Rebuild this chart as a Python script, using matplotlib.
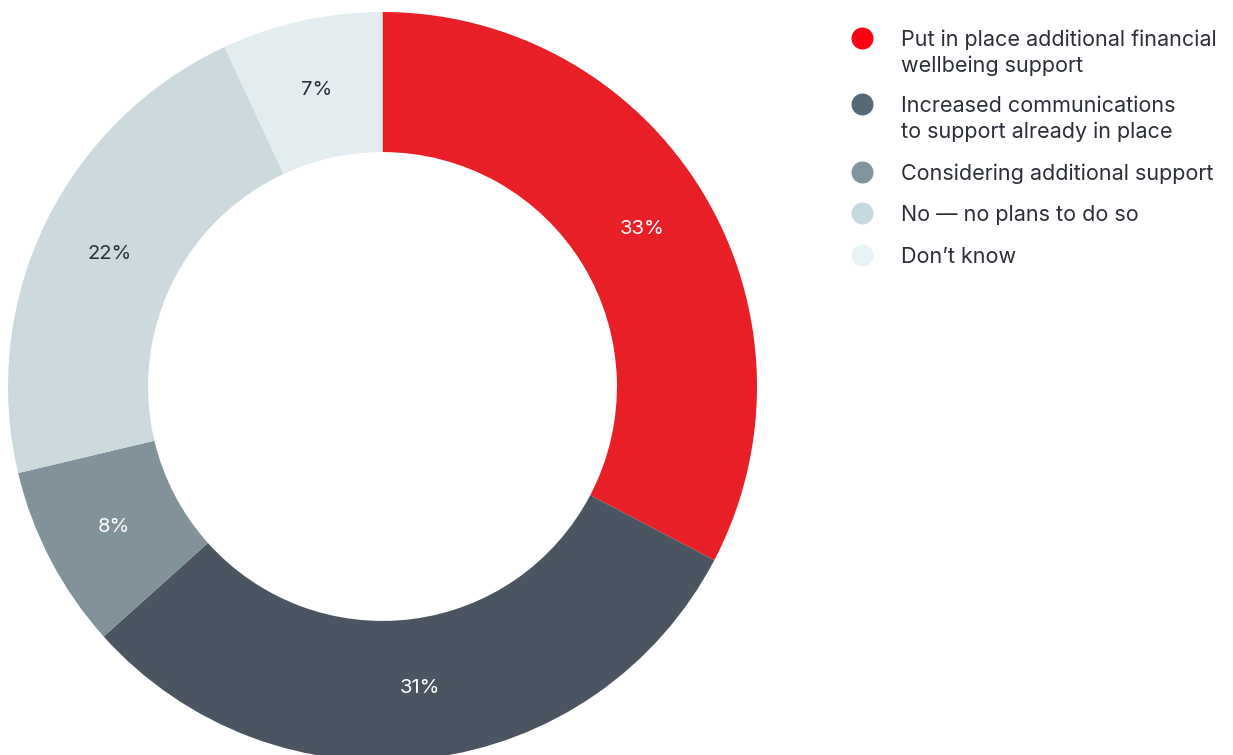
import numpy as np
import matplotlib.pyplot as plt

categories = [
    "Put in place additional financial\nwellbeing support",
    "Increased communications\nto support already in place",
    "Considering additional support",
    "No \u2014 no plans to do so",
    "Don\u2019t know",
]
values = [33, 31, 8, 22, 7]
slice_colors = ["#E91F27", "#4A5561", "#82929A", "#CCDADD", "#E3ECEE"]
dot_colors = ["#FF0015", "#546A77", "#7F949C", "#C5DADF", "#E6F3F4"]
label_colors = ["white", "white", "white", "#2B2F38", "#2B2F38"]

plt.rcParams["font.family"] = ["Inter", "DejaVu Sans"]

W, H = 1233, 755
fig = plt.figure(figsize=(W / 100, H / 100), dpi=100)

# donut: centre (382.5, 386.5) px, outer radius 374.5 px
cx, cy, r = 382.5, 386.5, 374.5
ax = fig.add_axes([(cx - r) / W, (H - cy - r) / H, 2 * r / W, 2 * r / H])
ax.pie(
    values,
    colors=slice_colors,
    startangle=90,
    counterclock=False,
    radius=1,
    wedgeprops=dict(width=0.374, linewidth=0),
)
ax.set_xlim(-1, 1)
ax.set_ylim(-1, 1)
ax.set_aspect("equal")
ax.axis("off")

total = sum(values)
start = 90.0
for v, col in zip(values, label_colors):
    span = v / total * 360
    mid = np.deg2rad(start - span / 2)
    ax.text(0.81 * np.cos(mid), 0.81 * np.sin(mid), f"{v}%",
            ha="center", va="center", fontsize=14.5, color=col)
    start -= span

# legend drawn in pixel coordinates
lax = fig.add_axes([0, 0, 1, 1])
lax.set_xlim(0, W)
lax.set_ylim(H, 0)
lax.axis("off")
dot_y = [38, 104, 172, 213, 255]
for y, c, lab in zip(dot_y, dot_colors, categories):
    lax.scatter([862], [y], s=250, color=c, linewidths=0)
    for i, line in enumerate(lab.split("\n")):
        lax.text(901, y + 2 + 26 * i, line, ha="left", va="center",
                 fontsize=15.5, color="#2B2F38")

fig.savefig("out.png", dpi=100)
